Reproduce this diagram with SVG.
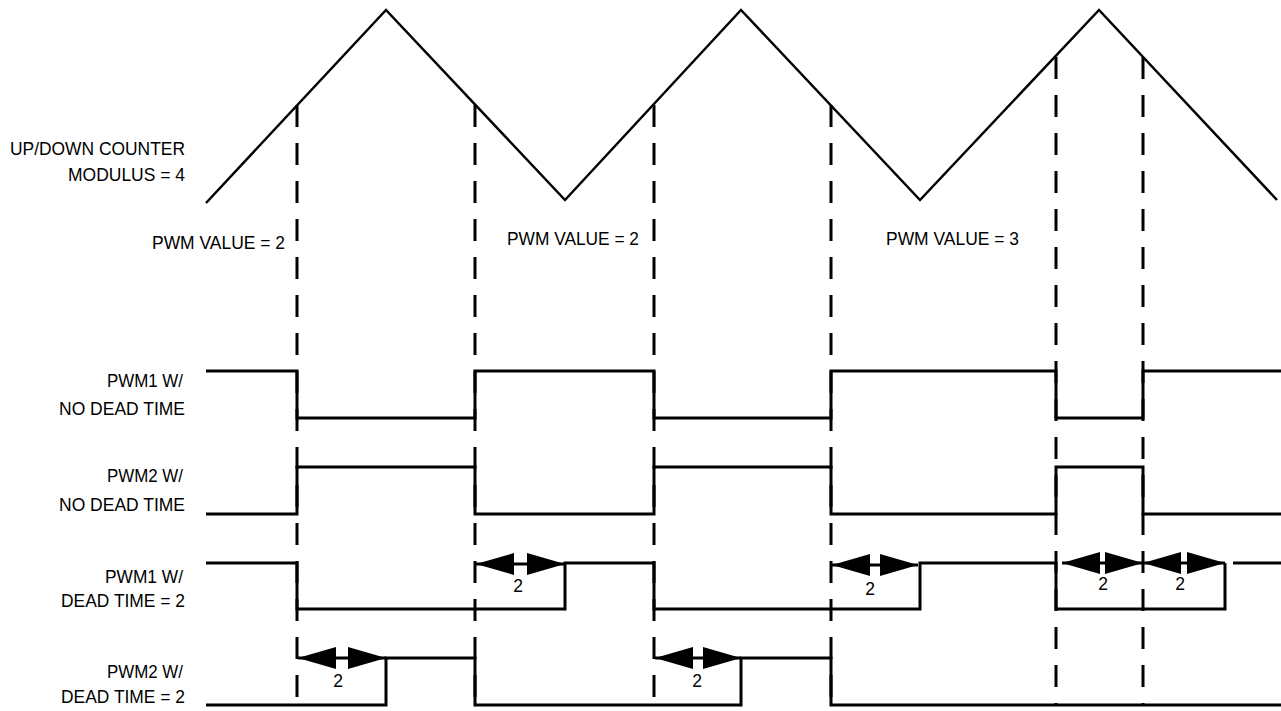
<svg xmlns="http://www.w3.org/2000/svg" width="1281" height="711" viewBox="0 0 1281 711">
<style>
.lbl{font-family:"Liberation Sans",Arial,sans-serif;font-size:18.5px;fill:#000;text-anchor:end}
.val{font-family:"Liberation Sans",Arial,sans-serif;font-size:18.5px;fill:#000}
.num{font-family:"Liberation Sans",Arial,sans-serif;font-size:17.5px;fill:#000;text-anchor:middle}
.wave{fill:none;stroke:#000;stroke-width:3;stroke-linejoin:miter}
.tri{fill:none;stroke:#000;stroke-width:2.5}
.dash{fill:none;stroke:#000;stroke-width:3;stroke-dasharray:22 16}
.dim{fill:none;stroke:#000;stroke-width:3}
</style>
<defs>
<marker id="ah" viewBox="0 0 38 22" refX="38" refY="11" markerWidth="38" markerHeight="22" markerUnits="userSpaceOnUse" orient="auto-start-reverse">
<path d="M0,0 L38,11 L0,22 Z" fill="#000"/>
</marker>
</defs>
<rect width="1281" height="711" fill="#fff"/>
<g id="counter">
<polyline class="tri" points="206,203 386,10 565,200 741,10 920,200 1099,10 1277,200"/>
<text class="lbl" x="185" y="155" textLength="175" lengthAdjust="spacingAndGlyphs">UP/DOWN COUNTER</text>
<text class="lbl" x="185" y="181" textLength="117" lengthAdjust="spacingAndGlyphs">MODULUS = 4</text>
</g>
<g id="pwm-values">
<text class="lbl" x="285" y="249" textLength="133" lengthAdjust="spacingAndGlyphs">PWM VALUE = 2</text>
<text class="val" x="507" y="245" textLength="132" lengthAdjust="spacingAndGlyphs">PWM VALUE = 2</text>
<text class="val" x="886" y="245" textLength="133" lengthAdjust="spacingAndGlyphs">PWM VALUE = 3</text>
</g>
<g id="pwm1-nodead">
<polyline class="wave" points="206,371 297,371 297,418 475,418 475,371 654,371 654,418 831,418 831,371 1056,371 1056,418 1143,418 1143,371 1281,371"/>
<text class="lbl" x="183" y="387" textLength="76" lengthAdjust="spacingAndGlyphs">PWM1 W/</text>
<text class="lbl" x="185" y="415" textLength="126" lengthAdjust="spacingAndGlyphs">NO DEAD TIME</text>
</g>
<g id="pwm2-nodead">
<polyline class="wave" points="206,514 297,514 297,467 475,467 475,514 654,514 654,467 831,467 831,514 1056,514 1056,467 1143,467 1143,514 1281,514"/>
<text class="lbl" x="183" y="482" textLength="76" lengthAdjust="spacingAndGlyphs">PWM2 W/</text>
<text class="lbl" x="185" y="511" textLength="126" lengthAdjust="spacingAndGlyphs">NO DEAD TIME</text>
</g>
<g id="pwm1-dead">
<polyline class="wave" points="206,563 297,563 297,609 565,609 565,563 654,563 654,609 920,609 920,563 1056,563 1056,609 1225,609 1225,563"/>
<line class="wave" x1="1233" y1="563" x2="1281" y2="563"/>
<text class="lbl" x="183" y="583" textLength="78" lengthAdjust="spacingAndGlyphs">PWM1 W/</text>
<text class="lbl" x="185" y="607" textLength="124" lengthAdjust="spacingAndGlyphs">DEAD TIME = 2</text>
</g>
<g id="pwm2-dead">
<polyline class="wave" points="206,705 386,705 386,658 475,658 475,705 741,705 741,658 831,658 831,705 1281,705"/>
<text class="lbl" x="183" y="678" textLength="76" lengthAdjust="spacingAndGlyphs">PWM2 W/</text>
<text class="lbl" x="185" y="703" textLength="124" lengthAdjust="spacingAndGlyphs">DEAD TIME = 2</text>
</g>
<g id="connectors">
<line class="dash" x1="297" y1="105" x2="297" y2="706"/>
<line class="dash" x1="475" y1="105" x2="475" y2="706"/>
<line class="dash" x1="654" y1="105" x2="654" y2="706"/>
<line class="dash" x1="831" y1="105" x2="831" y2="706"/>
<line class="dash" x1="1056" y1="57" x2="1056" y2="706"/>
<line class="dash" x1="1143" y1="57" x2="1143" y2="706"/>
<line class="dim" x1="476" y1="564" x2="565" y2="564" marker-start="url(#ah)" marker-end="url(#ah)"/>
<line class="dim" x1="832" y1="565" x2="918" y2="565" marker-start="url(#ah)" marker-end="url(#ah)"/>
<line class="dim" x1="1062" y1="563" x2="1143" y2="563" marker-start="url(#ah)" marker-end="url(#ah)"/>
<line class="dim" x1="1143" y1="563" x2="1225" y2="563" marker-start="url(#ah)" marker-end="url(#ah)"/>
<line class="dim" x1="298" y1="658" x2="386" y2="658" marker-start="url(#ah)" marker-end="url(#ah)"/>
<line class="dim" x1="655" y1="658" x2="741" y2="658" marker-start="url(#ah)" marker-end="url(#ah)"/>
<text class="num" x="518" y="592">2</text>
<text class="num" x="870" y="595">2</text>
<text class="num" x="1103" y="590">2</text>
<text class="num" x="1180" y="590">2</text>
<text class="num" x="338" y="687">2</text>
<text class="num" x="697" y="687">2</text>
</g>
</svg>
